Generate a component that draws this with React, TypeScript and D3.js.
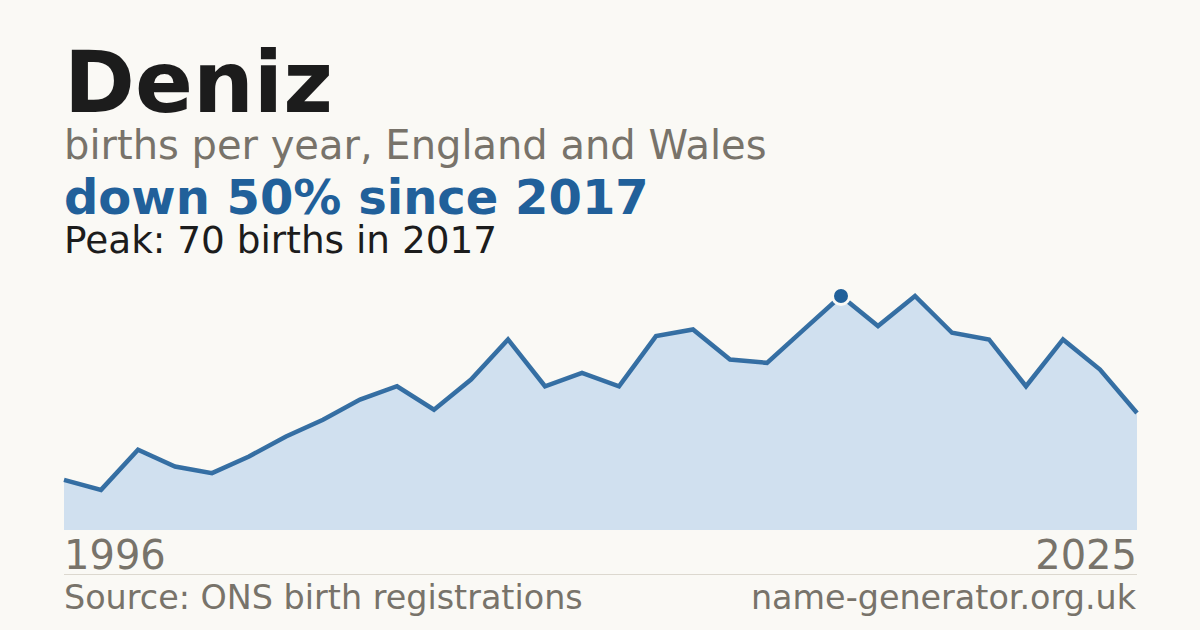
// @ts-nocheck
import React from "react";
import * as d3 from "d3";

const years = d3.range(1996, 2026);
const births = [
  15, 12, 24, 19, 17, 22, 28, 33, 39, 43,
  36, 45, 57, 43, 47, 43, 58, 60, 51, 50,
  60, 70, 61, 70, 59, 57, 43, 57, 48, 35,
];
const name = "Deniz";
const subtitle = "births per year, England and Wales";
const source = "Source: ONS birth registrations";
const site = "name-generator.org.uk";

const W = 1200;
const H = 630;
const BG = "#faf9f5";
const GREY = "#78736a";
const BLUE = "#21609a";
const FONT = "DejaVu Sans, sans-serif";

const App = () => {
  const left = 64;
  const right = 1137;
  const base = 530;

  const peakIdx = d3.maxIndex(births);
  const peak = births[peakIdx];
  const peakYear = years[peakIdx];
  const last = births[births.length - 1];
  const change = Math.round(((last - peak) / peak) * 100);

  const x = d3.scaleLinear().domain([years[0], years[years.length - 1]]).range([left, right]);
  const y = d3.scaleLinear().domain([0, peak * 1.1]).range([base, base - 234 * 1.1]);

  const pts = years.map((yr, i) => ({ yr, v: births[i] }));
  const area = d3.area().x((d) => x(d.yr)).y0(base).y1((d) => y(d.v));
  const line = d3.line().x((d) => x(d.yr)).y((d) => y(d.v));

  return (
    <>
      <style>{"body{margin:0}"}</style>
      <svg width={W} height={H} style={{ display: "block" }}>
        <rect width={W} height={H} fill={BG} />
        <text x={left} y={112} fontFamily={FONT} fontWeight="bold" fontSize={85.5} fill="#1c1c1c">
          {name}
        </text>
        <text x={left} y={159} fontFamily={FONT} fontSize={40} fill={GREY}>
          {subtitle}
        </text>
        <text x={left} y={214} fontFamily={FONT} fontWeight="bold" fontSize={48} fill={BLUE}>
          {`${change < 0 ? "down" : "up"} ${Math.abs(change)}% since ${peakYear}`}
        </text>
        <text x={left} y={253} fontFamily={FONT} fontSize={37.4} fill="#1c1c1c">
          {`Peak: ${peak} births in ${peakYear}`}
        </text>

        <path d={area(pts)} fill="#d0e0ef" />
        <path d={line(pts)} fill="none" stroke={BLUE} strokeWidth={4.5} opacity={0.9} />
        <circle cx={x(peakYear)} cy={y(peak)} r={8.5} fill={BLUE} stroke={BG} strokeWidth={3} />

        <text x={left} y={569} fontFamily={FONT} fontSize={40} fill={GREY}>
          {years[0]}
        </text>
        <text x={right} y={569} textAnchor="end" fontFamily={FONT} fontSize={40} fill={GREY}>
          {years[years.length - 1]}
        </text>
        <line x1={left} x2={right} y1={574.5} y2={574.5} stroke="#dcd8cf" strokeWidth={1} />
        <text x={left} y={609} fontFamily={FONT} fontSize={33.4} fill={GREY}>
          {source}
        </text>
        <text x={right - 1} y={609} textAnchor="end" fontFamily={FONT} fontSize={33.4} fill={GREY}>
          {site}
        </text>
      </svg>
    </>
  );
};

export default App;
